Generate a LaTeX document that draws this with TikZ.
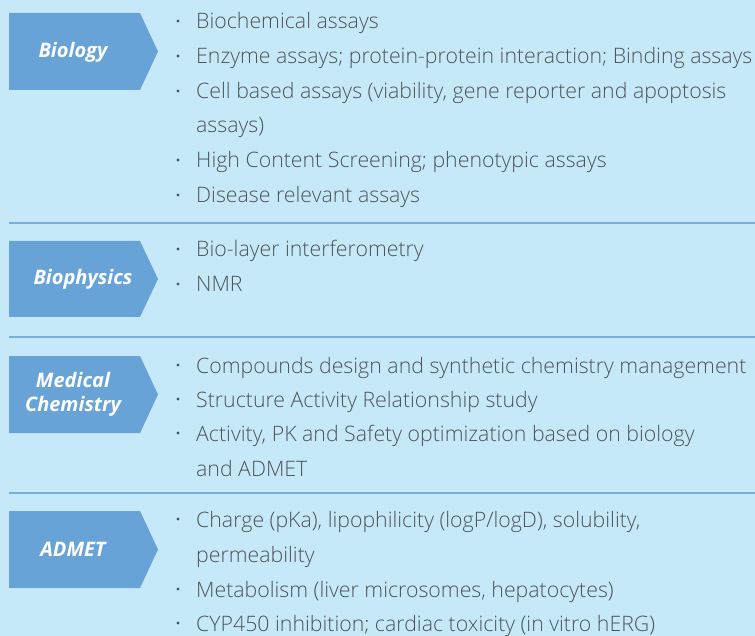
\documentclass[tikz,border=0pt]{standalone}
\usepackage{fontspec}
\setmainfont{Open Sans}
\newfontfamily\lightfont{Open Sans Light}

\definecolor{bgblue}{RGB}{198,233,249}
\definecolor{tagblue}{RGB}{104,163,216}
\definecolor{ruleblue}{RGB}{122,174,224}
\definecolor{textgray}{RGB}{78,84,90}

\tikzset{
  tag/.style={text=white, font=\bfseries\itshape\fontsize{20}{24}\selectfont, inner sep=0pt},
  item/.style={anchor=base west, text=textgray, font=\lightfont\fontsize{21.3}{25}\selectfont, inner sep=0pt},
  sep/.style={ruleblue, line width=1.5pt}
}

\begin{document}
\begin{tikzpicture}[x=1pt, y=-1pt]
\useasboundingbox[fill=bgblue] (0,0) rectangle (755,636);

% arrow tags
\foreach \t/\h in {13/77, 241/76, 356/77, 511/77}
  \fill[tagblue] (9,\t) -- (140,\t) -- (158,{\t+\h/2}) -- (140,{\t+\h}) -- (9,{\t+\h}) -- cycle;
\path (73,52) node[tag] (biology) {Biology};
\path (83,279) node[tag] (biophysics) {Biophysics};
\path (73,394) node[tag, align=center] (medchem) {Medical\\Chemistry};
\path (73,549) node[tag] (admet) {ADMET};

% separators
\foreach \y in {223, 337, 493}
  \draw[sep] (9,\y) -- (755,\y);

% bullets
\foreach \y in {29,64,99,168,203, 257,292, 373,407,441, 527,597,631}
  \fill[textgray] (178,\y-8) circle (1.6);

% Biology
\path (196,29) node[item] (bio1) {Biochemical assays};
\path (196,64) node[item] (bio2) {Enzyme assays; protein-protein interaction; Binding assays};
\path (196,99) node[item] (bio3) {Cell based assays (viability, gene reporter and apoptosis};
\path (196,133) node[item] (bio3b) {assays)};
\path (196,168) node[item] (bio4) {High Content Screening; phenotypic assays};
\path (196,203) node[item] (bio5) {Disease relevant assays};

% Biophysics
\path (196,257) node[item] (phys1) {Bio-layer interferometry};
\path (196,292) node[item] (phys2) {NMR};

% Medical Chemistry
\path (196,373) node[item] (chem1) {Compounds design and synthetic chemistry management};
\path (196,407) node[item] (chem2) {Structure Activity Relationship study};
\path (196,441) node[item] (chem3) {Activity, PK and Safety optimization based on biology};
\path (196,476) node[item] (chem3b) {and ADMET};

% ADMET
\path (196,527) node[item] (adm1) {Charge (pKa), lipophilicity (logP/logD), solubility,};
\path (196,562) node[item] (adm1b) {permeability};
\path (196,597) node[item] (adm2) {Metabolism (liver microsomes, hepatocytes)};
\path (196,631) node[item] (adm3) {CYP450 inhibition; cardiac toxicity (in vitro hERG)};
\end{tikzpicture}
\end{document}
